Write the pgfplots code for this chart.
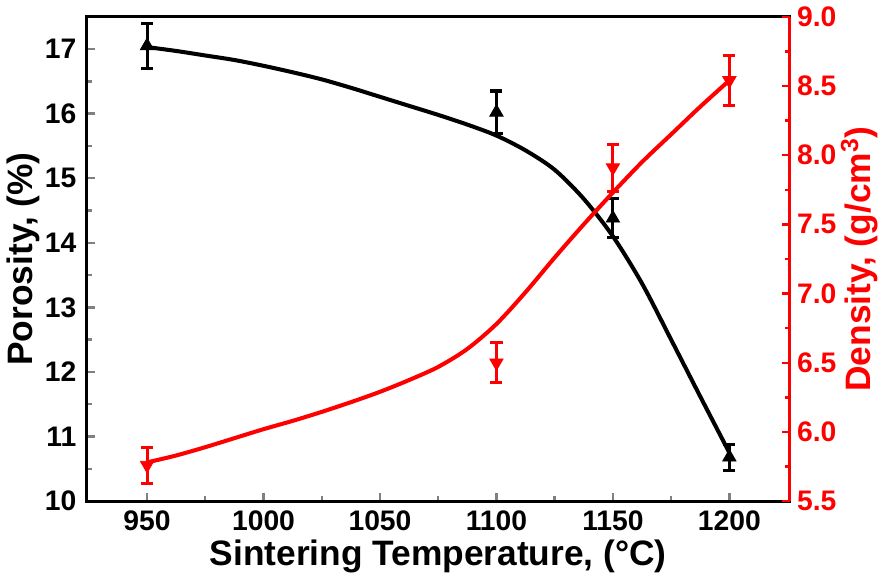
\documentclass[border=0pt]{standalone}
\usepackage{fontspec}
\setmainfont{Liberation Sans}
\usepackage{pgfplots}
\pgfplotsset{compat=1.18}
\definecolor{dred}{HTML}{FF0000}

\begin{document}
\begin{tikzpicture}
\pgfplotsset{
  every axis/.append style={
    scale only axis, width=348.5pt, height=240pt,
    xmin=924, xmax=1226,
    tick align=inside,
    major tick length=4pt, minor tick length=2.5pt,
    tick style={line width=1.2pt},
    /pgf/number format/assume math mode=true,
    tick label style={font=\fontsize{14}{16}\selectfont\bfseries},
  }
}
% porosity (left axis)
\begin{axis}[
  ymin=10, ymax=17.5,
  ytick={10,11,...,17},
  xtick={950,1000,...,1200},
  minor x tick num=1, minor y tick num=1,
  xtick pos=bottom, ytick pos=left,
  axis line style={line width=1.5pt},
  xticklabel style={/pgf/number format/1000 sep={}, yshift=-1pt},
  yticklabel style={xshift=-1.5pt},
  xlabel={Sintering Temperature, (°C)},
  ylabel={Porosity, (\%)},
  every axis y label/.style={at={(axis description cs:-0.09,0.5)}, rotate=90, anchor=center,
    font=\fontsize{17.5}{20}\selectfont\bfseries},
  every axis x label/.style={at={(axis description cs:0.5,-0.115)}, anchor=center,
    font=\fontsize{17.5}{20}\selectfont\bfseries},
]
\addplot[black, line width=2pt, smooth] coordinates {
  (950,17.03) (962.5,16.97) (975,16.90) (987.5,16.83) (1000,16.74)
  (1012.5,16.64) (1025,16.53) (1037.5,16.40) (1050,16.26) (1062.5,16.12)
  (1075,15.98) (1087.5,15.83) (1100,15.66) (1112.5,15.43) (1125,15.13)
  (1137.5,14.68) (1150,14.10) (1162.5,13.37) (1175,12.50) (1187.5,11.62)
  (1200,10.75)
};
\addplot[black, only marks, mark=triangle*, mark size=3.8pt,
  error bars/.cd, y dir=both, y explicit,
  error bar style={line width=1.5pt},
  error mark options={rotate=90, mark size=3pt, line width=1.5pt}]
coordinates {
  (950,17.05) +- (0,0.35)
  (1100,16.02) +- (0,0.33)
  (1150,14.38) +- (0,0.30)
  (1200,10.68) +- (0,0.20)
};
\end{axis}
% density (right axis)
\begin{axis}[
  ymin=5.5, ymax=9.0,
  ytick={5.5,6.0,...,9.0},
  minor y tick num=1,
  axis x line=none,
  axis y line*=right,
  y axis line style={dred, line width=1.5pt},
  y tick style={dred, line width=1.2pt},
  yticklabel style={dred, /pgf/number format/.cd, fixed, fixed zerofill, precision=1},
  ylabel={Density, (g/cm\textsuperscript{3})},
  every axis y label/.style={at={(axis description cs:1.099,0.5)}, rotate=90, anchor=center,
    text=dred, font=\fontsize{17.5}{20}\selectfont\bfseries},
]
\addplot[dred, line width=2pt, smooth] coordinates {
  (950,5.78) (962.5,5.83) (975,5.89) (987.5,5.955) (1000,6.02)
  (1012.5,6.08) (1025,6.145) (1037.5,6.215) (1050,6.29) (1062.5,6.375)
  (1075,6.47) (1087.5,6.60) (1100,6.78) (1112.5,7.01) (1125,7.26)
  (1137.5,7.50) (1150,7.73) (1162.5,7.95) (1175,8.15) (1187.5,8.35)
  (1200,8.54)
};
\addplot[dred, only marks, mark=triangle*, mark size=3.8pt,
  mark options={rotate=180},
  error bars/.cd, y dir=both, y explicit,
  error bar style={line width=1.5pt},
  error mark options={rotate=90, mark size=3pt, line width=1.5pt}]
coordinates {
  (950,5.76) +- (0,0.13)
  (1100,6.50) +- (0,0.145)
  (1150,7.91) +- (0,0.17)
  (1200,8.54) +- (0,0.18)
};
\end{axis}
\end{tikzpicture}
\end{document}
